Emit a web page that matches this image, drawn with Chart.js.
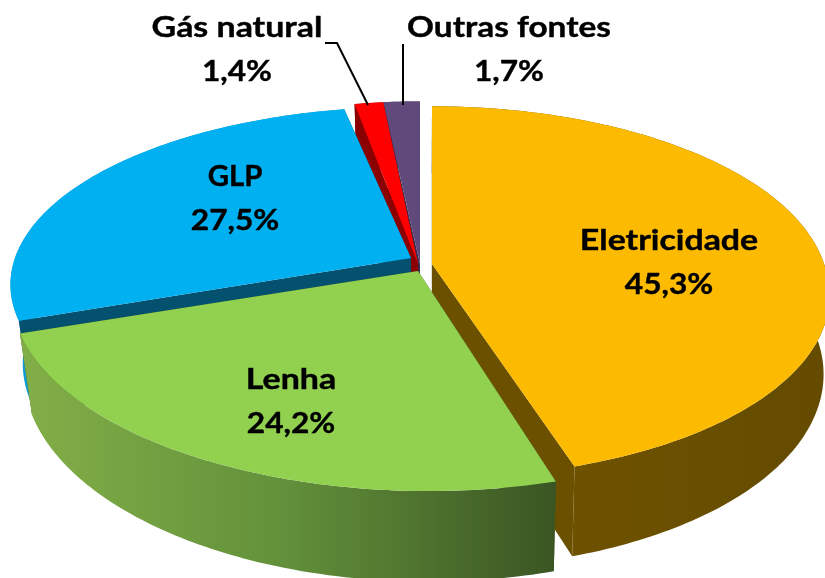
<!DOCTYPE html>
<html><head><meta charset="utf-8">
<style>html,body{margin:0;padding:0;background:#fff}#w{width:825px;height:578px;overflow:hidden}</style>
<script src="https://cdn.jsdelivr.net/npm/chart.js@4"></script></head>
<body><div id="w"><canvas id="c" width="825" height="578"></canvas></div>
<script>
const categories=["Eletricidade","Lenha","GLP","Gás natural","Outras fontes"];
const values=[45.3,24.2,27.5,1.4,1.7];
const valueLabels=["45,3%","24,2%","27,5%","1,4%","1,7%"];
const colors=["#FCBB00","#92D050","#00B0F0","#FF0000","#604A7B"];
const cutColors=["#6B5000","#3C5723","#04506F","#8B0000","#3A2C4C"];
const explode=[[12,1],[-2,8],[-9,-5],[-2,1],[0,1]];
const xScale=[.99,1.015,1,.95,1];
const yScale=[.97,1,.93,1,1];
const skew=[.04,0,0,0,0];
const tilt=[0,.0125,0,0,0];
const labelPos=[[669,263],[291,402],[235,199],[237,50],[509,50]];
const nameStretch=[1.19,1.19,1.03,1.19,1.17];
const valueStretch=1.11;
const view={cx:420,cy:263,A:396,B:187,k:.15,D:77,shrinkL:.97,shrinkR:.985};
const drawOrder=[4,3,2,0,1];
function proj(i,ang,r){
  const u=r*Math.cos(ang),v=r*Math.sin(ang),w=1-view.k*v;
  const dx=view.A*xScale[i]*u/w,dy=view.B*yScale[i]*v/w;
  return {x:view.cx+explode[i][0]+dx+skew[i]*Math.max(0,dy),y:view.cy+explode[i][1]+dy+tilt[i]*dx,w};
}
function low(p){const s=p.x>view.cx?view.shrinkR:view.shrinkL;return {x:view.cx+(p.x-view.cx)*s,y:p.y+view.D/p.w};}
function poly(ctx,pts,fill){
  ctx.beginPath();pts.forEach((p,j)=>j?ctx.lineTo(p.x,p.y):ctx.moveTo(p.x,p.y));ctx.closePath();
  ctx.fillStyle=fill;ctx.fill();
}
const pie3d={id:'pie3d',
 beforeDatasetsDraw(chart){
  const ctx=chart.ctx,meta=chart.getDatasetMeta(0);
  const gG=ctx.createLinearGradient(20,0,555,0);gG.addColorStop(0,'#83AF48');gG.addColorStop(.5,'#62903A');gG.addColorStop(1,'#3A5522');
  const gO=ctx.createLinearGradient(570,0,825,0);gO.addColorStop(0,'#6E5200');gO.addColorStop(1,'#644B00');
  const outer=[gO,gG,'#0E9BD8',cutColors[3],cutColors[4]];
  drawOrder.forEach(i=>{
    const a=meta.data[i],p=a.getProps(['startAngle','endAngle']);
    const n=Math.max(4,Math.ceil((p.endAngle-p.startAngle)*60));
    const rim=[];for(let s=0;s<=n;s++)rim.push(proj(i,p.startAngle+(p.endAngle-p.startAngle)*s/n,1));
    const tip=proj(i,0,0),lowTip=low(tip);
    const first=rim[0],last=rim[n];
    const wall=()=>poly(ctx,rim.concat(rim.map(low).reverse()),outer[i]);
    if(i===2)wall();
    poly(ctx,[tip,first,low(first),lowTip],cutColors[i]);
    poly(ctx,[tip,last,low(last),lowTip],cutColors[i]);
    if(i!==2)wall();
    poly(ctx,[tip].concat(rim),colors[i]);
  });
  return false;
 },
 afterDraw(chart){
  const ctx=chart.ctx;
  ctx.strokeStyle='#000';ctx.lineWidth=2;
  ctx.beginPath();ctx.moveTo(325,43);ctx.lineTo(337,43);ctx.lineTo(368,105);ctx.moveTo(403,44);ctx.lineTo(403,105);ctx.stroke();
  ctx.fillStyle='#000';ctx.lineWidth=.4;ctx.lineJoin='round';
  ctx.font='bold 28.5px Lato';ctx.textAlign='center';ctx.textBaseline='middle';
  const put=(t,x,y,s)=>{ctx.save();ctx.translate(x,y);ctx.scale(s,1);ctx.fillText(t,0,0);ctx.strokeText(t,0,0);ctx.restore();};
  categories.forEach((c,i)=>{const [x,y]=labelPos[i];put(c,x,y-22,nameStretch[i]);put(valueLabels[i],x,y+22,valueStretch);});
 }};
new Chart(document.getElementById('c'),{type:'pie',
 data:{labels:categories,datasets:[{data:values,backgroundColor:colors,borderWidth:0,clip:false}]},
 options:{responsive:false,animation:false,layout:{padding:0},plugins:{legend:{display:false},tooltip:{enabled:false}}},
 plugins:[pie3d]});
</script></body></html>
